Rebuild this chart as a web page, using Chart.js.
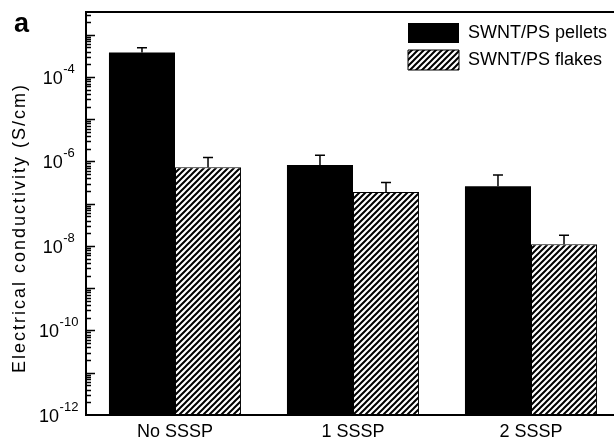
<!DOCTYPE html>
<html>
<head>
<meta charset="utf-8">
<script src="https://cdn.jsdelivr.net/npm/chart.js@4.4.1/dist/chart.umd.min.js"></script>
<style>
  html, body { margin: 0; padding: 0; background: #fff; overflow: hidden; }
  #wrap { width: 614px; height: 441px; overflow: hidden; }
</style>
</head>
<body>
<div id="wrap"><canvas id="chart" width="620" height="441"></canvas></div>
<script>
// data
const categories = ['No SSSP', '1 SSSP', '2 SSSP'];
const seriesNames = ['SWNT/PS pellets', 'SWNT/PS flakes'];
const pellets = [3.8e-4, 8.3e-7, 2.6e-7];
const pelletsErrTop = [4.9e-4, 1.4e-6, 4.8e-7];
const flakes = [7.3e-7, 1.9e-7, 1.1e-8];
const flakesErrTop = [1.25e-6, 3.2e-7, 1.8e-8];
const yTickValues = [1e-12, 1e-10, 1e-8, 1e-6, 1e-4];
const yMin = 1e-12;
const yMax = 3.45e-3;
const yTitle = 'Electrical conductivity (S/cm)';
const panelLabel = 'a';

const FONT = "'Liberation Sans', Arial, Helvetica, sans-serif";
Chart.defaults.font.family = FONT;
Chart.defaults.color = '#000';

// diagonal hatch like the flakes bars
function hatchPattern() {
  const s = 6;
  const c = document.createElement('canvas');
  c.width = s; c.height = s;
  const g = c.getContext('2d');
  g.fillStyle = '#fff';
  g.fillRect(0, 0, s, s);
  g.strokeStyle = '#000';
  g.lineWidth = 2;
  g.beginPath();
  g.moveTo(-1, s + 1); g.lineTo(s + 1, -1);
  g.moveTo(-1, 1); g.lineTo(1, -1);
  g.moveTo(s - 1, s + 1); g.lineTo(s + 1, s - 1);
  g.stroke();
  return g.createPattern(c, 'repeat');
}

const errTops = [pelletsErrTop, flakesErrTop];

const extras = {
  id: 'extras',
  afterLayout(chart) {
    // legend sits inside the plot, top right
    const lg = chart.legend, ca = chart.chartArea;
    lg.left = ca.right - 219;
    lg.top = ca.top + 4;
    lg.bottom = lg.top + 120;
  },
  afterDatasetsDraw(chart) {
    const ctx = chart.ctx, y = chart.scales.y;
    ctx.save();
    ctx.strokeStyle = '#000';
    ctx.lineWidth = 1.5;
    chart.data.datasets.forEach((ds, di) => {
      chart.getDatasetMeta(di).data.forEach((bar, i) => {
        const yTop = y.getPixelForValue(errTops[di][i]);
        ctx.beginPath();
        ctx.moveTo(bar.x, bar.y);
        ctx.lineTo(bar.x, yTop);
        ctx.moveTo(bar.x - 5, yTop);
        ctx.lineTo(bar.x + 5, yTop);
        ctx.stroke();
      });
    });
    ctx.restore();
  },
  afterDraw(chart) {
    const ctx = chart.ctx, y = chart.scales.y, ca = chart.chartArea;
    ctx.save();
    // inward log ticks on the left axis
    ctx.strokeStyle = '#000';
    ctx.lineWidth = 1.3;
    ctx.beginPath();
    for (let e = -12; e <= -3; e++) {
      for (let k = 1; k <= 9; k++) {
        const v = k * Math.pow(10, e);
        if (v > yMax || v <= yMin) continue;
        const py = Math.round(y.getPixelForValue(v)) + 0.5;
        const len = k === 1 ? 9 : 5;
        ctx.moveTo(ca.left, py);
        ctx.lineTo(ca.left + len, py);
      }
    }
    ctx.stroke();

    // tick labels: 10 with a raised exponent, centred in the label column
    ctx.fillStyle = '#000';
    ctx.textAlign = 'left';
    ctx.textBaseline = 'alphabetic';
    const baseFont = '18px ' + FONT, expFont = '13px ' + FONT;
    yTickValues.forEach(v => {
      const exp = String(Math.round(Math.log10(v)));
      const py = y.getPixelForValue(v);
      ctx.font = baseFont;
      const wb = ctx.measureText('10').width;
      ctx.font = expFont;
      const we = ctx.measureText(exp).width;
      const x0 = 58.5 - (wb + we) / 2;
      ctx.font = baseFont;
      ctx.fillText('10', x0, py + 7);
      ctx.font = expFont;
      ctx.fillText(exp, x0 + wb + 0.5, py - 4);
    });

    // axis title
    ctx.font = '18px ' + FONT;
    ctx.textAlign = 'center';
    ctx.textBaseline = 'middle';
    ctx.translate(20, 228);
    ctx.rotate(-Math.PI / 2);
    if ('letterSpacing' in ctx) ctx.letterSpacing = '2px';
    ctx.fillText(yTitle, 0, 0);
    ctx.restore();

    ctx.save();
    ctx.fillStyle = '#000';
    ctx.font = 'bold 27px ' + FONT;
    ctx.textAlign = 'left';
    ctx.textBaseline = 'alphabetic';
    ctx.fillText(panelLabel, 14, 32);
    ctx.restore();
  }
};

new Chart(document.getElementById('chart'), {
  type: 'bar',
  data: {
    labels: categories,
    datasets: [
      {
        label: seriesNames[0],
        data: pellets,
        backgroundColor: '#000',
        borderColor: '#000',
        borderWidth: 0,
        categoryPercentage: 0.742,
        barPercentage: 1
      },
      {
        label: seriesNames[1],
        data: flakes,
        backgroundColor: hatchPattern(),
        borderColor: '#000',
        borderWidth: 1,
        borderSkipped: false,
        categoryPercentage: 0.742,
        barPercentage: 1
      }
    ]
  },
  options: {
    responsive: false,
    animation: false,
    devicePixelRatio: 1,
    layout: { padding: { top: 12, right: 0, bottom: 0, left: 0 } },
    plugins: {
      tooltip: { enabled: false },
      legend: {
        position: 'chartArea',
        align: 'start',
        labels: {
          boxWidth: 51,
          boxHeight: 20,
          padding: 7,
          color: '#000',
          font: { size: 18 }
        }
      }
    },
    scales: {
      x: {
        type: 'category',
        position: 'bottom',
        offset: true,
        grid: { display: false },
        border: { display: true, color: '#000', width: 2 },
        ticks: { color: '#000', font: { size: 18 }, padding: -2, maxRotation: 0 },
        afterFit: (s) => { s.height = 26; }
      },
      xTop: {
        type: 'category',
        position: 'top',
        grid: { display: false, drawTicks: false },
        border: { display: true, color: '#000', width: 2 },
        ticks: { display: false },
        afterFit: (s) => { s.height = 0; }
      },
      y: {
        type: 'logarithmic',
        min: yMin,
        max: yMax,
        grid: { display: false },
        border: { display: true, color: '#000', width: 2 },
        afterBuildTicks: (s) => { s.ticks = yTickValues.map(v => ({ value: v })); },
        ticks: { display: false },
        afterFit: (s) => { s.width = 86; }
      }
    }
  },
  plugins: [extras]
});
</script>
</body>
</html>
